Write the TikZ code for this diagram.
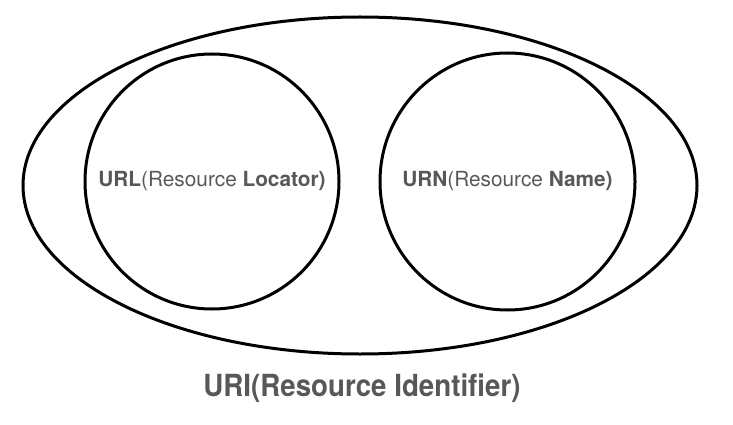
\documentclass[tikz,border=0pt]{standalone}
\usepackage{fontspec}
\setmainfont{TeX Gyre Heros}
\usetikzlibrary{shapes.geometric,positioning}
\definecolor{labelgray}{RGB}{88,88,88}
\tikzset{
  setring/.style={draw=black,line width=3pt,ellipse,inner sep=0pt},
  setname/.style={text=labelgray,font=\fontsize{20.8}{24}\selectfont}
}
\begin{document}
\begin{tikzpicture}[x=1pt,y=-1pt]
                \useasboundingbox (0,0) rectangle (733,425);
                \node[setring,minimum width=674pt,minimum height=337pt] (uri) at (360,185.5) {};
                \node[setring,minimum width=254pt,minimum height=255pt] (url) at (212,181.5) {};
                \node[setring,minimum width=255pt,minimum height=257pt] (urn) at (507.5,181.5) {};
                \node[setname] (urltext) at (url.center) {\textbf{URL}(Resource \textbf{Locator)}};
                \node[setname] (urntext) at (urn.center) {\textbf{URN}(Resource \textbf{Name)}};
                \node[text=labelgray,font=\fontsize{27.7}{32}\selectfont\bfseries] (urilabel) at (362,388)
                    {\scalebox{1}[1.1]{URI(Resource Identifier)}};

                \end{tikzpicture}
\end{document}
